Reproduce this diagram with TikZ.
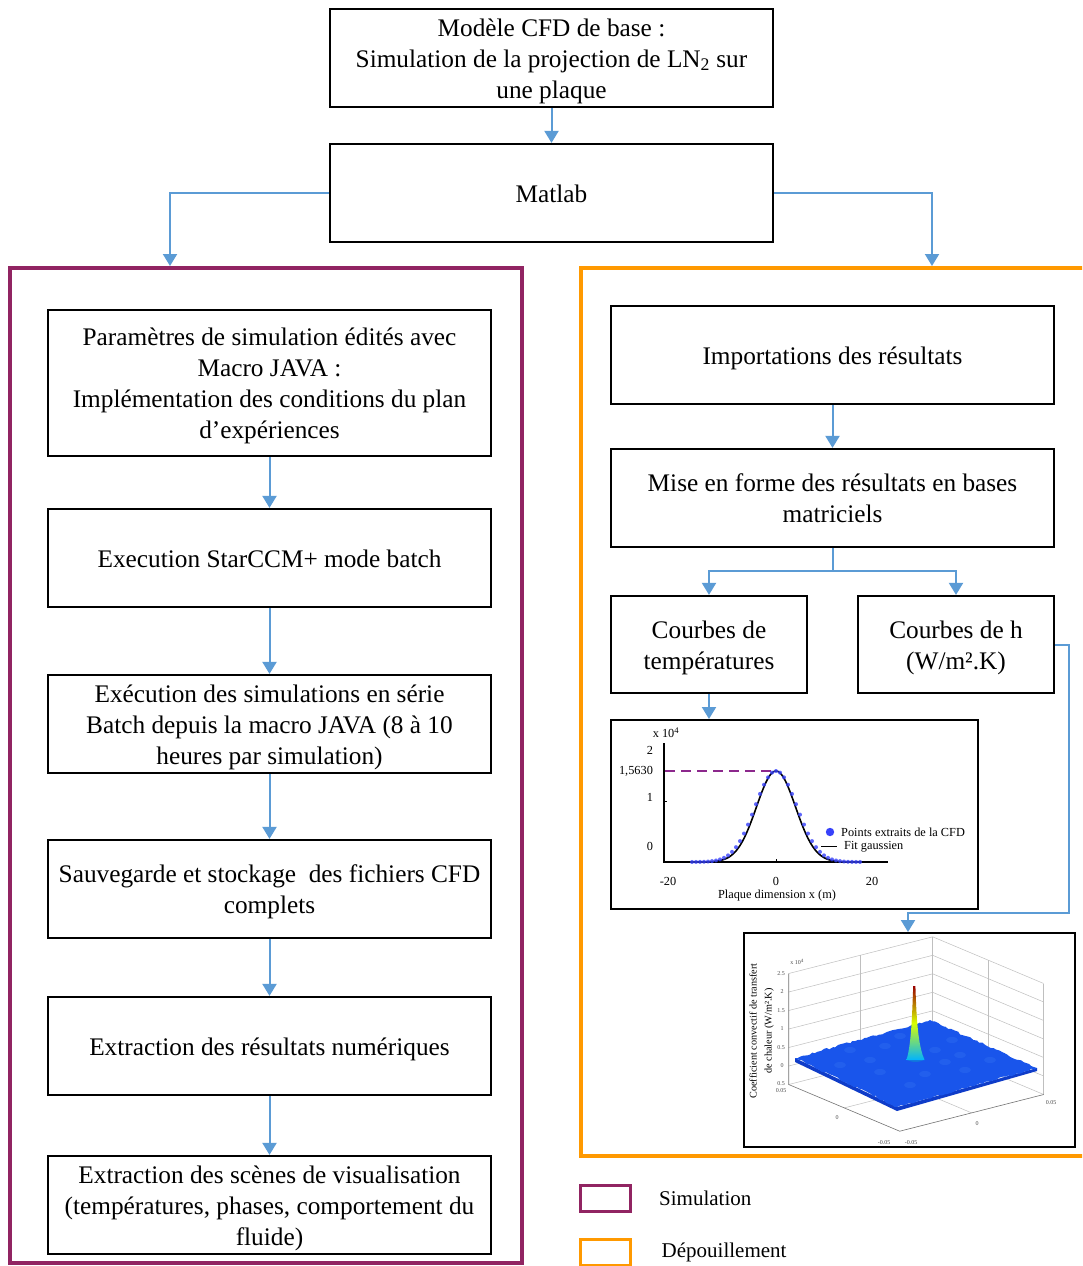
\documentclass[tikz,border=0pt]{standalone}
\usepackage{fontspec}
\setmainfont{Liberation Serif}
\usetikzlibrary{arrows.meta,decorations.pathmorphing,calc}
\definecolor{arrblue}{RGB}{91,155,213}
\definecolor{simpurple}{RGB}{145,36,98}
\definecolor{deporange}{RGB}{255,153,0}
\definecolor{dotblue}{RGB}{55,65,250}
\definecolor{dashpurple}{RGB}{140,40,140}
\definecolor{surfblue}{RGB}{25,85,235}
\definecolor{surfdark}{RGB}{15,60,200}
\definecolor{bumpblue}{RGB}{70,135,245}
\newcommand\mainsz{\fontsize{25.3}{31}\selectfont}
\newcommand\legsz{\fontsize{21}{25}\selectfont}
\newcommand\chartsz{\fontsize{12.3}{14}\selectfont}
\newcommand\ylabsz{\fontsize{10.2}{15}\selectfont}
\newcommand\ticksz{\fontsize{6}{7}\selectfont}
\newcommand\bs{\rule[-6pt]{0pt}{30.5pt}}
\newcommand\bt{\rule{0pt}{24.5pt}}
\newcommand\bd{\rule[-6pt]{0pt}{6pt}}
\begin{document}
\begin{tikzpicture}[x=1pt,y=-1pt,
  box/.style={draw, line width=2.2pt, align=center, inner sep=0pt, font=\mainsz},
  arr/.style={draw=arrblue, line width=2pt, -{Triangle[width=14pt,length=12pt]}},
  frame/.style={draw, inner sep=0pt},
  lbl/.style={inner sep=0pt, font=\chartsz},
  tick/.style={inner sep=0pt, font=\ticksz, text=black!70},
  grid3d/.style={draw=black!25, line width=0.5pt},
  axis3d/.style={draw=black!55, line width=0.6pt}]
\clip (0,0) rectangle (1082,1266);
\fill[white] (0,0) rectangle (1082,1266);

% group frames
\node[draw=simpurple, line width=4pt, minimum width=512pt, minimum height=995pt, inner sep=0pt] (simbox) at (266,765.5) {};
\node[draw=deporange, line width=4pt, minimum width=530pt, minimum height=888pt, inner sep=0pt] (depbox) at (846,712) {};

% top boxes
\node[box, minimum width=443pt, minimum height=98pt] (cfd) at (551.5,58) {\bt Modèle CFD de base :\\Simulation de la projection de LN\textsubscript{2} sur\\une plaque\bd};
\node[box, minimum width=443pt, minimum height=98pt] (matlab) at (551.5,193) {\bs Matlab};

% left column
\node[box, minimum width=443pt, minimum height=146pt] (b1) at (269.5,383) {\bt Paramètres de simulation édités avec\\Macro JAVA :\\Implémentation des conditions du plan\\d’expériences\bd};
\node[box, minimum width=443pt, minimum height=98pt] (b2) at (269.5,558) {\bs Execution StarCCM+ mode batch};
\node[box, minimum width=443pt, minimum height=98pt] (b3) at (269.5,724) {\bt Exécution des simulations en série\\Batch depuis la macro JAVA (8 à 10\\heures par simulation)\bd};
\node[box, minimum width=443pt, minimum height=98pt] (b4) at (269.5,889) {\bt Sauvegarde et stockage~ des fichiers CFD\\complets\bd};
\node[box, minimum width=443pt, minimum height=98pt] (b5) at (269.5,1046) {\bs Extraction des résultats numériques};
\node[box, minimum width=443pt, minimum height=98pt] (b6) at (269.5,1205) {\bt Extraction des scènes de visualisation\\(températures, phases, comportement du\\fluide)\bd};

% right column
\node[box, minimum width=443pt, minimum height=98pt] (r1) at (832.5,355) {\bs Importations des résultats};
\node[box, minimum width=443pt, minimum height=98pt] (r2) at (832.5,498) {\bt Mise en forme des résultats en bases\\matriciels\bd};
\node[box, minimum width=196pt, minimum height=97pt] (r3) at (709,644.5) {\bt Courbes de\\températures\bd};
\node[box, minimum width=196pt, minimum height=97pt] (r4) at (956,644.5) {\bt Courbes de h\\(W/m².K)\bd};

% chart frame
\node[frame, line width=2pt, minimum width=367pt, minimum height=189pt] (chart) at (794.5,814.5) {};
% 3D frame
\node[frame, line width=1.5pt, minimum width=331pt, minimum height=214pt] (hplot) at (909.5,1040) {};

% connectors
\coordinate (simtop) at (170,266);
\coordinate (deptop) at (932,266);
\coordinate (hturn) at (1069,913);
\coordinate (htop) at (908,932);
\draw[arr] (cfd.south) -- (matlab.north);
\draw[arr] (matlab.west) -| (simtop);
\draw[arr] (matlab.east) -| (deptop);
\draw[arr] (b1.south) -- (b2.north);
\draw[arr] (b2.south) -- (b3.north);
\draw[arr] (b3.south) -- (b4.north);
\draw[arr] (b4.south) -- (b5.north);
\draw[arr] (b5.south) -- (b6.north);
\draw[arr] (r1.south) -- (r2.north);
\draw[arr] (r2.south) -- ++(0,23) -| (r3.north);
\draw[arr] (r2.south) -- ++(0,23) -| (r4.north);
\draw[arr] (r3.south) -- (r3.south |- chart.north);
\draw[arr] (r4.east) -| (hturn) -| (htop);

% ---- 2D chart ----
\draw[line width=1.3pt] (664,743) -- (664,862) -- (888,862);
\draw[line width=1pt] (664,801) -- (667,801);
\draw[line width=1pt] (776,862) -- (776,859);
\draw[dashpurple, line width=1.3pt, dash pattern=on 10pt off 6pt] (665,771) -- (776,771);
\draw[line width=1.6pt, black] plot[domain=705:848, samples=120, smooth] (\x,{862-91*exp(-((\x-776)/19.5)^2/2)});
\foreach \xx in {692,696,...,860}
  \fill[dotblue, opacity=0.8] (\xx,{862-91*exp(-((\xx-776)/21)^2/2)}) circle (2);
\node[lbl] (ck) at (666,733) {x 10\textsuperscript{4}};
\node[lbl] (c2) at (650,750) {2};
\node[lbl] (cpk) at (636,771) {1,5630};
\node[lbl] (c1) at (650,797) {1};
\node[lbl] (c0) at (650,846) {0};
\node[lbl] (xm20) at (668,881) {-20};
\node[lbl] (x0) at (776,881) {0};
\node[lbl] (x20) at (872,881) {20};
\node[lbl] (xlab) at (777,896) {Plaque dimension x (m)};
\fill[dotblue] (830,832) circle (4.2);
\node[lbl, anchor=west] (legpts) at (841,832) {Points extraits de la CFD};
\draw[line width=1.6pt] (821,846.5) -- (837,846.5);
\node[lbl, anchor=west] (legfit) at (844,846.5) {Fit gaussien};

% ---- 3D plot ----
\foreach \z in {-0.5,0,0.5,1,1.5,2,2.5}
  \draw[grid3d] (788.7,{1066-37*\z}) -- (932.7,{1029.3-37*\z}) -- (1043.7,{1076-37*\z});
\draw[grid3d] (860.7,1066.2) -- (860.7,955.2);
\draw[grid3d] (932.7,1047.8) -- (932.7,936.8);
\draw[grid3d] (988.2,1071.2) -- (988.2,960.2);
\draw[grid3d] (1043.7,1094.5) -- (1043.7,983.5);
\draw[grid3d] (860.7,1066.2) -- (971.7,1112.9);
\draw[grid3d] (988.2,1071.2) -- (844.2,1107.9);
\draw[axis3d] (788.7,973.5) -- (788.7,1084.5) -- (899.7,1131.2) -- (1043.7,1094.5);
% surface
\fill[surfdark] (795,1058) -- (897,1107) -- (1037,1068) -- (1037,1071) -- (897,1111) -- (795,1062) -- cycle;
\fill[surfblue, decorate, decoration={random steps, segment length=3pt, amplitude=1pt}] (795,1058) -- (930,1020) -- (1037,1068) -- (897,1107) -- cycle;
\foreach \px/\py in {885/1046, 935/1050, 952/1040, 870/1060, 925/1074, 900/1036, 945/1062, 960/1055, 880/1072, 910/1085, 965/1070, 850/1050, 990/1060, 840/1065}
  \fill[bumpblue, opacity=0.2] (\px,\py) ellipse (6 and 3);
\fill[cyan!70!blue, opacity=0.6] (915.5,1058) ellipse (9 and 4);
\shade[top color=red!60!black, bottom color=cyan!70!blue, middle color=yellow!85!green]
  (906.5,1060) .. controls (911,1045) and (912,1020) .. (913.2,986) -- (915.4,986) .. controls (916.5,1020) and (918,1045) .. (924.5,1060) -- cycle;
% tick labels
\node[tick] (zk) at (797,962) {x 10\textsuperscript{4}};
\node[tick] (z25) at (781,973.5) {2.5};
\node[tick] (z20) at (782,992) {2};
\node[tick] (z15) at (781,1011) {1.5};
\node[tick] (z10) at (782,1029) {1};
\node[tick] (z05) at (781,1047.5) {0.5};
\node[tick] (z00) at (782,1066) {0};
\node[tick] (zm05) at (781,1084) {0.5};
\node[tick] (y005) at (781,1091) {0.05};
\node[tick] (y0) at (837,1118) {0};
\node[tick] (ym005) at (884,1143) {-0.05};
\node[tick] (xm005) at (911,1143) {-0.05};
\node[tick] (x0b) at (977,1124) {0};
\node[tick] (x005) at (1051,1103) {0.05};
\node[inner sep=0pt, rotate=90, align=center, font=\ylabsz] (zlab) at (761.5,1031) {Coefficient convectif de transfert\\de chaleur (W/m².K)};

% legend
\node[draw=simpurple, line width=3.3pt, minimum width=50pt, minimum height=26pt, inner sep=0pt] (legsim) at (605.5,1198.5) {};
\node[draw=deporange, line width=3.3pt, minimum width=50pt, minimum height=26pt, inner sep=0pt] (legdep) at (605.5,1252.5) {};
\node[anchor=west, inner sep=0pt, font=\legsz] (legsimtxt) at (659,1198) {Simulation};
\node[anchor=west, inner sep=0pt, font=\legsz] (legdeptxt) at (661.5,1252) {Dépouillement};
\end{tikzpicture}
\end{document}
